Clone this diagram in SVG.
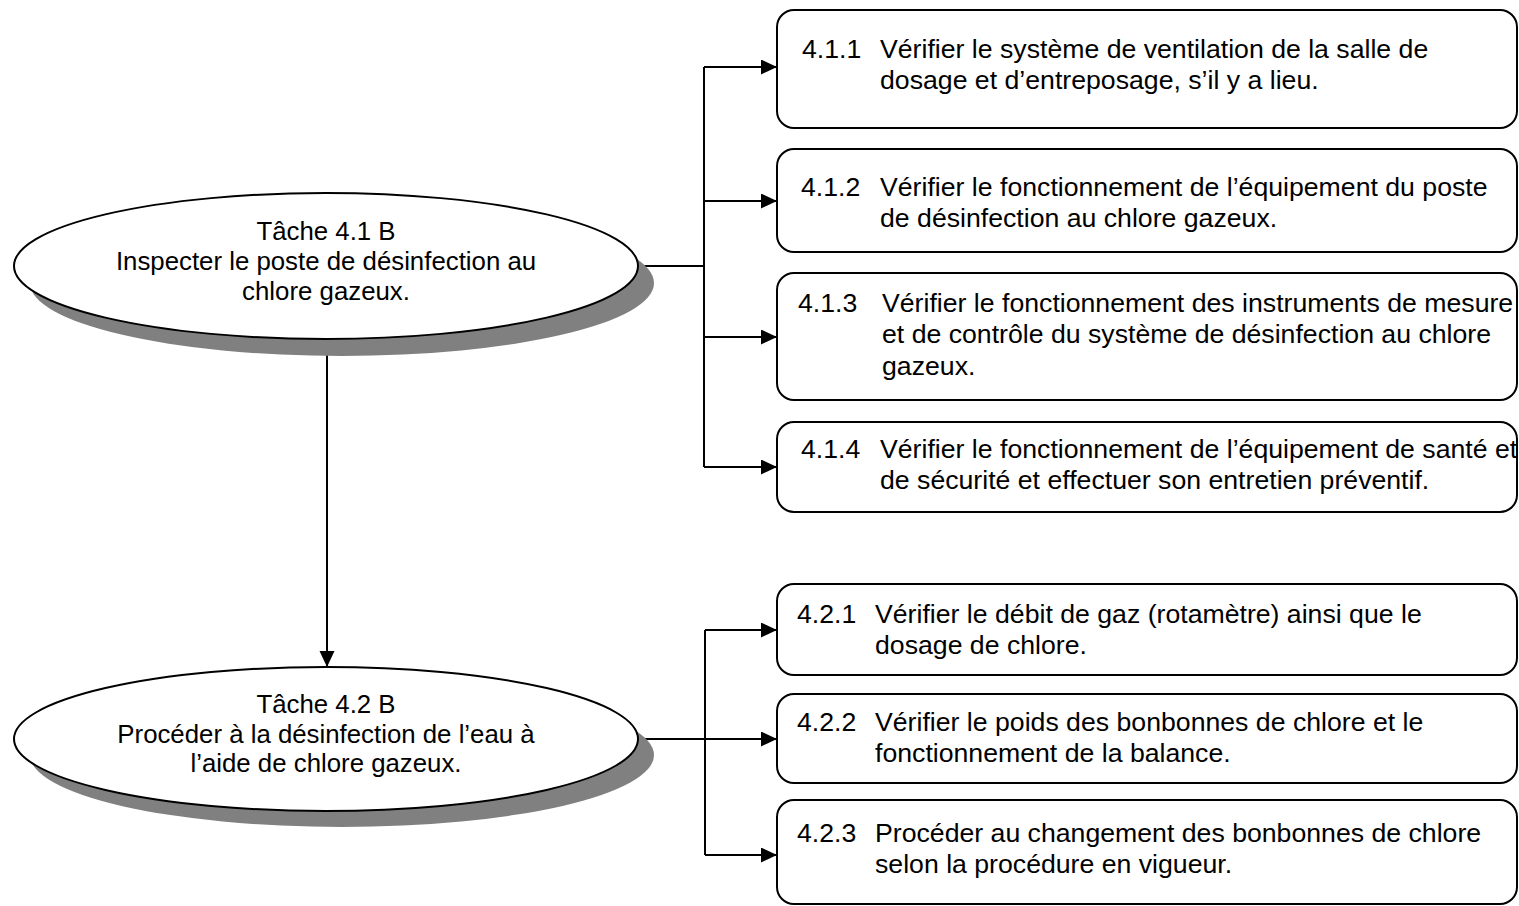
<svg xmlns="http://www.w3.org/2000/svg" width="1519" height="906" viewBox="0 0 1519 906">
<style>
text{font-family:"Liberation Sans",Arial,sans-serif;fill:#000}
.et{font-size:25.8px;text-anchor:middle}
.bt{font-size:26.67px}
.sh{fill:#808080;stroke:none}
.el{fill:#fff;stroke:#000;stroke-width:2}
.box{fill:#fff;stroke:#000;stroke-width:2}
.ln{fill:none;stroke:#000;stroke-width:2}
</style>
<defs>
<marker id="ah" markerUnits="userSpaceOnUse" markerWidth="18" markerHeight="16" refX="16" refY="7.5" orient="auto">
<path d="M0,0 L16,7.5 L0,15 Z" fill="#000"/>
</marker>
</defs>
<rect width="1519" height="906" fill="#fff"/>
<g id="connectors">
<path class="ln" d="M638,266 H704"/>
<path class="ln" d="M704,67 V467"/>
<path class="ln" d="M704,67 H777" marker-end="url(#ah)"/>
<path class="ln" d="M704,201 H777" marker-end="url(#ah)"/>
<path class="ln" d="M704,337 H777" marker-end="url(#ah)"/>
<path class="ln" d="M704,467 H777" marker-end="url(#ah)"/>
<path class="ln" d="M327,339 V667" marker-end="url(#ah)"/>
<path class="ln" d="M638,739 H777" marker-end="url(#ah)"/>
<path class="ln" d="M705,630 V855"/>
<path class="ln" d="M705,630 H777" marker-end="url(#ah)"/>
<path class="ln" d="M705,855 H777" marker-end="url(#ah)"/>
</g>
<g id="task41">
<ellipse class="sh" cx="342" cy="283" rx="312" ry="73"/>
<ellipse class="el" cx="326" cy="266" rx="312" ry="73"/>
<text class="et" x="326" y="240">Tâche 4.1 B</text>
<text class="et" x="326" y="270">Inspecter le poste de désinfection au</text>
<text class="et" x="326" y="300">chlore gazeux.</text>
</g>
<g id="task42">
<ellipse class="sh" cx="342" cy="755" rx="312" ry="72"/>
<ellipse class="el" cx="326" cy="739" rx="312" ry="72"/>
<text class="et" x="326" y="713">Tâche 4.2 B</text>
<text class="et" x="326" y="743">Procéder à la désinfection de l’eau à</text>
<text class="et" x="326" y="772">l’aide de chlore gazeux.</text>
</g>
<g id="n411">
<rect class="box" x="777" y="10" width="740" height="118" rx="17" ry="17"/>
<text class="bt" x="802" y="58">4.1.1</text>
<text class="bt" x="880" y="58">Vérifier le système de ventilation de la salle de</text>
<text class="bt" x="880" y="89">dosage et d’entreposage, s’il y a lieu.</text>
</g>
<g id="n412">
<rect class="box" x="777" y="149" width="740" height="103" rx="17" ry="17"/>
<text class="bt" x="801" y="196">4.1.2</text>
<text class="bt" x="880" y="196">Vérifier le fonctionnement de l’équipement du poste</text>
<text class="bt" x="880" y="227">de désinfection au chlore gazeux.</text>
</g>
<g id="n413">
<rect class="box" x="777" y="273" width="740" height="127" rx="17" ry="17"/>
<text class="bt" x="798" y="312">4.1.3</text>
<text class="bt" x="882" y="312">Vérifier le fonctionnement des instruments de mesure</text>
<text class="bt" x="882" y="343">et de contrôle du système de désinfection au chlore</text>
<text class="bt" x="882" y="375">gazeux.</text>
</g>
<g id="n414">
<rect class="box" x="777" y="422" width="740" height="90" rx="17" ry="17"/>
<text class="bt" x="801" y="458">4.1.4</text>
<text class="bt" x="880" y="458">Vérifier le fonctionnement de l’équipement de santé et</text>
<text class="bt" x="880" y="489">de sécurité et effectuer son entretien préventif.</text>
</g>
<g id="n421">
<rect class="box" x="777" y="584" width="740" height="91" rx="17" ry="17"/>
<text class="bt" x="797" y="623">4.2.1</text>
<text class="bt" x="875" y="623">Vérifier le débit de gaz (rotamètre) ainsi que le</text>
<text class="bt" x="875" y="654">dosage de chlore.</text>
</g>
<g id="n422">
<rect class="box" x="777" y="694" width="740" height="89" rx="17" ry="17"/>
<text class="bt" x="797" y="731">4.2.2</text>
<text class="bt" x="875" y="731">Vérifier le poids des bonbonnes de chlore et le</text>
<text class="bt" x="875" y="762">fonctionnement de la balance.</text>
</g>
<g id="n423">
<rect class="box" x="777" y="800" width="740" height="104" rx="17" ry="17"/>
<text class="bt" x="797" y="842">4.2.3</text>
<text class="bt" x="875" y="842">Procéder au changement des bonbonnes de chlore</text>
<text class="bt" x="875" y="873">selon la procédure en vigueur.</text>
</g>
</svg>
